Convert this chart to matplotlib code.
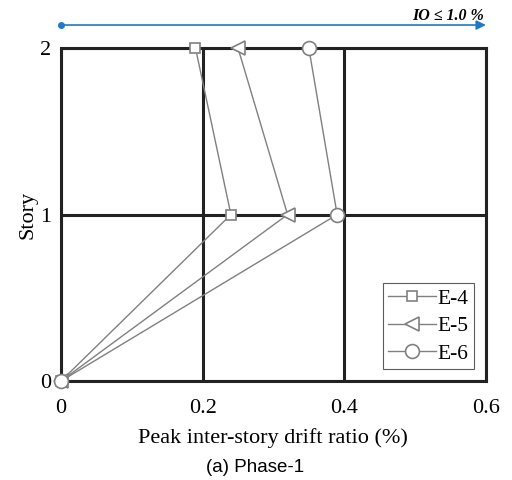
import numpy as np
import matplotlib.pyplot as plt

# peak inter-story drift ratio (%) per story, phase-1
story = [0, 1, 2]
drift_e4 = [0.0, 0.24, 0.19]
drift_e5 = [0.0, 0.32, 0.25]
drift_e6 = [0.0, 0.39, 0.35]
labels = ['E-4', 'E-5', 'E-6']
markers = ['s', '<', 'o']

x_ticks = [0, 0.2, 0.4, 0.6]
x_tick_labels = ['0', '0.2', '0.4', '0.6']
y_ticks = [0, 1, 2]

plt.rcParams['font.family'] = 'Liberation Serif'

fig = plt.figure(figsize=(5.12, 4.8), dpi=100)
ax = fig.add_axes([0.119, 0.206, 0.830, 0.694])

sizes = {'s': 7, '<': 10, 'o': 10}
for xs, lab, mk in zip([drift_e4, drift_e5, drift_e6], labels, markers):
    ax.plot(xs, story, color='#808080', lw=1.0, marker=mk, markersize=sizes[mk],
            markerfacecolor='white', markeredgecolor='#808080', markeredgewidth=1.2,
            label=lab, clip_on=False, zorder=4)

ax.set_xlim(0, 0.6)
ax.set_ylim(0, 2)
ax.set_xticks(x_ticks)
ax.set_xticklabels(x_tick_labels)
ax.set_yticks(y_ticks)
ax.tick_params(length=0, labelsize=16)
ax.tick_params(axis='x', pad=13)
ax.tick_params(axis='y', pad=7)
ax.grid(True, color='#222222', lw=2.2)
for s in ax.spines.values():
    s.set_linewidth(2.2)
    s.set_color('#222222')

ax.set_xlabel('Peak inter-story drift ratio (%)', fontsize=16, labelpad=7)
ax.set_ylabel('Story', fontsize=16, labelpad=2)

leg = ax.legend(loc='lower right', fontsize=15.5, frameon=True, fancybox=False,
                handlelength=2.2, handletextpad=0.1, borderpad=0.25,
                labelspacing=0.35, borderaxespad=0.55)
leg.get_frame().set_edgecolor('#333333')
leg.get_frame().set_linewidth(0.8)

# IO performance limit arrow above the axes
ax.annotate('', xy=(1.0, 1.069), xytext=(0.0, 1.069), xycoords='axes fraction',
            arrowprops=dict(arrowstyle='-|>', color='#1f78c8', lw=1.2,
                            mutation_scale=14, shrinkA=0, shrinkB=0))
ax.plot([0], [1.069], 'o', color='#1f78c8', markersize=4,
        transform=ax.transAxes, clip_on=False)
ax.text(0.995, 1.084, r'IO ≤ 1.0 %', transform=ax.transAxes, ha='right', va='baseline',
        fontsize=11.5, fontweight='bold', fontstyle='italic')

fig.text(0.498, 0.027, '(a) Phase-1', ha='center', va='center',
         fontsize=13.5, family='Liberation Sans')

plt.savefig('out.png', dpi=100)
